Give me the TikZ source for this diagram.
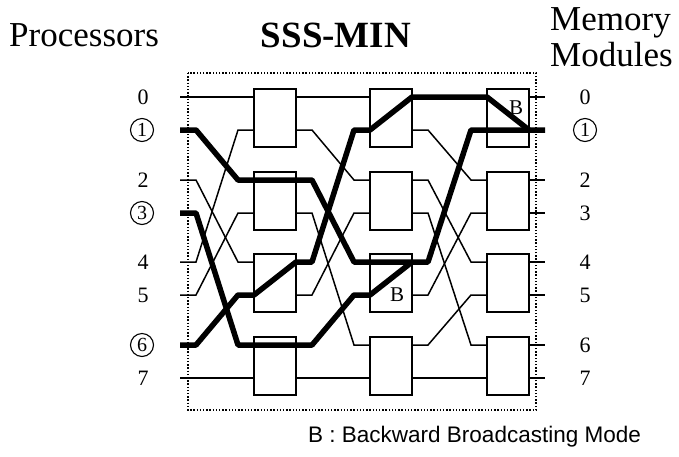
\documentclass[tikz,border=0pt]{standalone}
\usepackage{fontspec}
\setmainfont{Liberation Serif}
\newfontfamily\legendfont{Liberation Sans}
\begin{document}
\begin{tikzpicture}[x=1pt,y=-1pt,
  thinw/.style={line width=1.5pt},
  thickw/.style={line width=5.5pt,line join=round},
  swbox/.style={draw,line width=1.5pt,fill=white,minimum width=42pt,minimum height=58pt,inner sep=0pt},
  frame/.style={line width=1.4pt,dash pattern=on 1.4pt off 1.8pt},
  numlab/.style={font=\fontsize{22}{22}\selectfont},
  circlab/.style={circle,draw,line width=1.1pt,minimum size=23pt,inner sep=0pt,font=\fontsize{20}{20}\selectfont},
  titlefont/.style={font=\fontsize{35}{38}\selectfont},
  blab/.style={font=\fontsize{21}{21}\selectfont}]
\useasboundingbox (0,0) rectangle (679,456);

% ports
\foreach \r/\y in {0/97,1/130,2/180,3/213,4/262,5/295,6/345,7/378} {
  \coordinate (in\r) at (180,\y);
  \coordinate (out\r) at (545,\y);
  \coordinate (a\r) at (254,\y); \coordinate (A\r) at (296,\y);
  \coordinate (b\r) at (370,\y); \coordinate (B\r) at (412,\y);
  \coordinate (c\r) at (487,\y); \coordinate (C\r) at (529,\y);
}

% frame
\draw[frame] (188,73) rectangle (536,410);

% switch boxes
\foreach \k/\yc in {1/118,2/201,3/283,4/366} {
  \node[swbox] (sA\k) at (275,\yc) {};
  \node[swbox] (sB\k) at (391,\yc) {};
  \node[swbox] (sC\k) at (508,\yc) {};
}

% thin shuffle wiring
\foreach \i/\j in {0/0,1/2,2/4,3/6,4/1,5/3,6/5,7/7} {
  \draw[thinw] (in\i) -- ++(16,0) -- ([xshift=-16pt]a\j) -- (a\j);
  \draw[thinw] (A\i) -- ++(16,0) -- ([xshift=-16pt]b\j) -- (b\j);
  \draw[thinw] (B\i) -- ++(16,0) -- ([xshift=-16pt]c\j) -- (c\j);
  \draw[thinw] (C\i) -- (out\i);
}

% thick broadcast paths
\draw[thickw] (in1) -- ++(16,0) -- ([xshift=-16pt]a2) -- (a2) -- (A2)
  -- ++(16,0) -- ([xshift=-16pt]b4) -- (b4) -- (B4)
  -- ++(16,0) -- ([xshift=-16pt]c1) -- (c1) -- (C1) -- (out1);
\draw[thickw] (in3) -- ++(16,0) -- ([xshift=-16pt]a6) -- (a6) -- (A6)
  -- ++(16,0) -- ([xshift=-16pt]b5) -- (b5) -- (B4);
\draw[thickw] (in6) -- ++(16,0) -- ([xshift=-16pt]a5) -- (a5) -- (A4)
  -- ++(16,0) -- ([xshift=-16pt]b1) -- (b1) -- (B0) -- (c0) -- (C1);

% B marks
\node[blab] (bmode1) at (516,108) {B};
\node[blab] (bmode2) at (397,295) {B};

% row labels
\foreach \r/\y in {0/97,2/180,4/262,5/295,7/378} {
  \node[numlab] (pl\r) at (143,\y) {\r};
  \node[numlab] (ml\r) at (585,\y) {\r};
}
\foreach \r/\y in {3/213,6/345} {
  \node[circlab] (pl\r) at (142,\y) {\r};
  \node[numlab] (ml\r) at (585,\y) {\r};
}
\node[circlab] (pl1) at (142,130) {1};
\node[circlab] (ml1) at (585,130) {1};

% titles
\node[titlefont,anchor=base west,inner sep=0pt] (tproc) at (9,46) {Processors};
\node[font=\fontsize{37}{40}\selectfont\bfseries,anchor=base,inner sep=0pt] (tmin) at (336,47) {SSS-MIN};
\node[titlefont,anchor=base west,inner sep=0pt] (tmem) at (550,30) {Memory};
\node[titlefont,anchor=base west,inner sep=0pt] (tmod) at (550,66) {Modules};

% legend
\node[anchor=base west,inner sep=0pt,font=\legendfont\fontsize{22.5}{24}\selectfont] (legend) at (308,442) {B : Backward Broadcasting Mode};
\end{tikzpicture}
\end{document}
